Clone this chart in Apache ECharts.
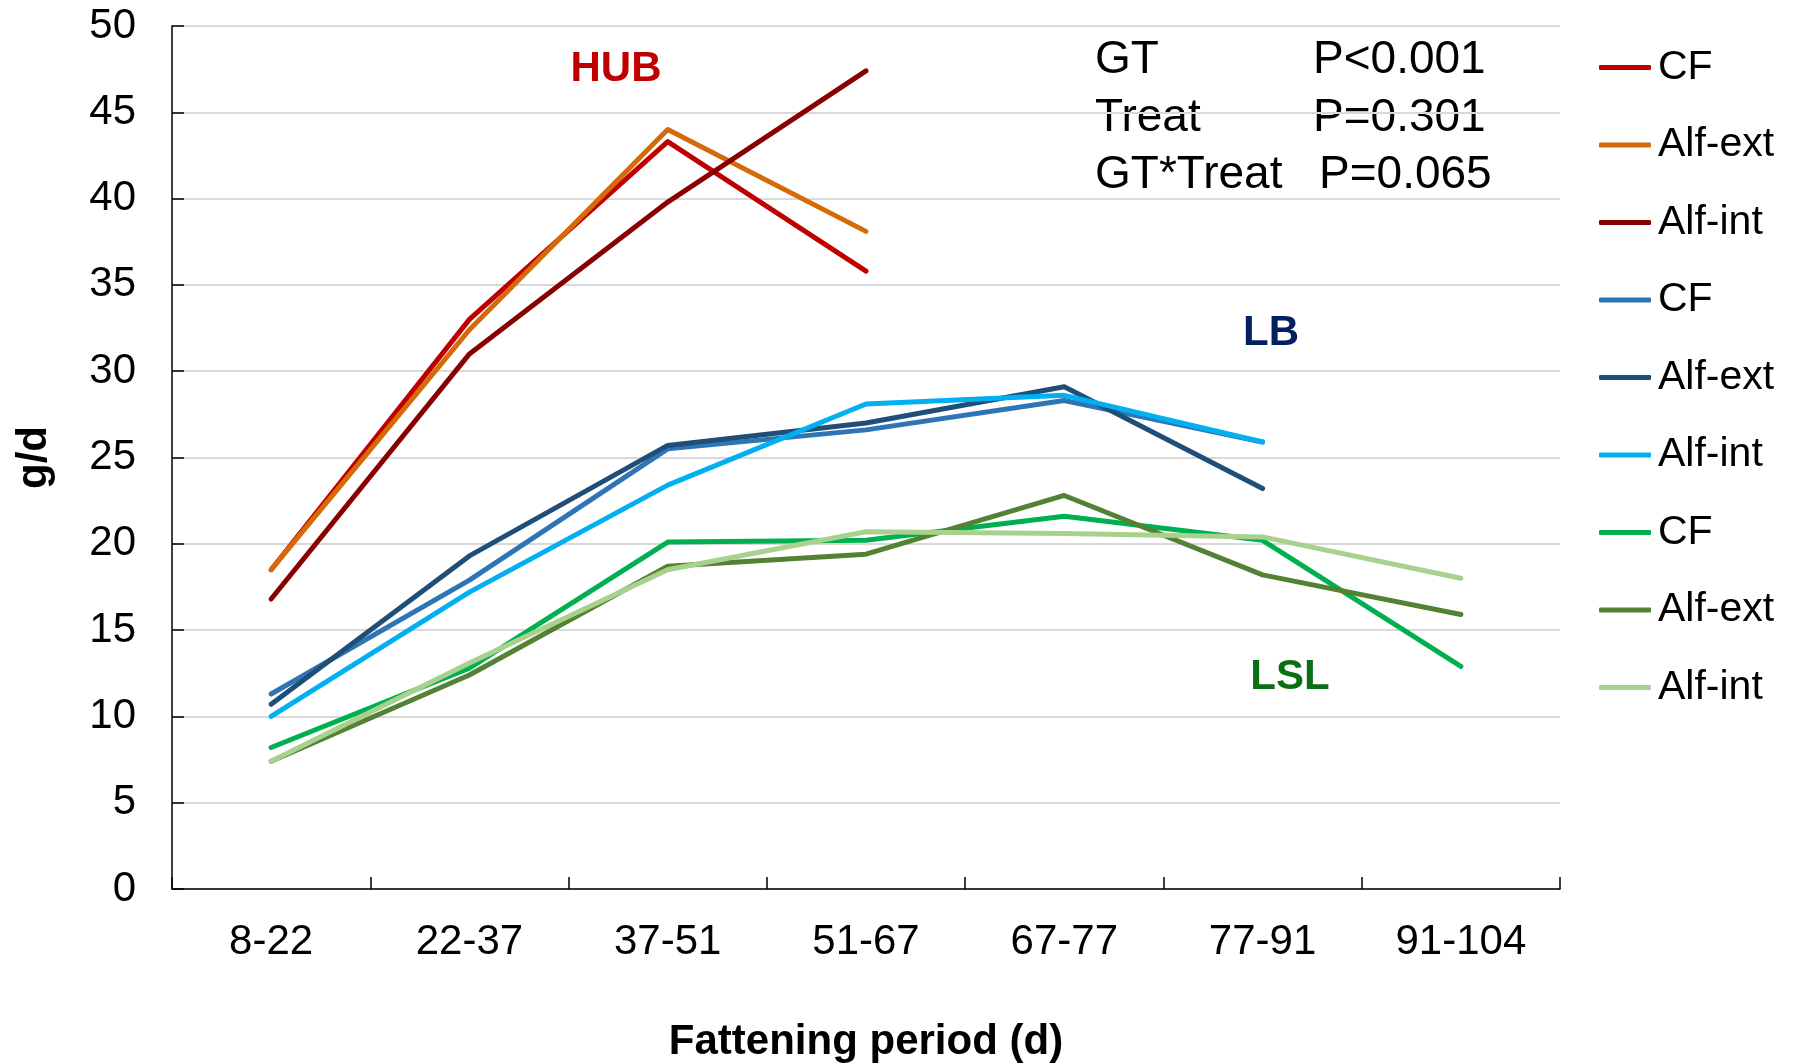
<!DOCTYPE html>
<html>
<head>
<meta charset="utf-8">
<script src="https://cdn.jsdelivr.net/npm/echarts@6/dist/echarts.min.js"></script>
<style>
  html, body { margin: 0; padding: 0; background: #fff; }
  #chart { width: 1798px; height: 1064px; }
</style>
</head>
<body>
<div id="chart"></div>
<script>
// daily gain per fattening period
var periods = ['8-22', '22-37', '37-51', '51-67', '67-77', '77-91', '91-104'];

var hubCF     = [18.5, 33.0, 43.3, 35.8, null, null, null];
var hubAlfExt = [18.5, 32.4, 44.0, 38.1, null, null, null];
var hubAlfInt = [16.8, 31.0, 39.8, 47.4, null, null, null];

var lbCF      = [11.3, 17.9, 25.5, 26.6, 28.3, 25.9, null];
var lbAlfExt  = [10.7, 19.3, 25.7, 27.0, 29.1, 23.2, null];
var lbAlfInt  = [10.0, 17.2, 23.4, 28.1, 28.6, 25.9, null];

var lslCF     = [8.2, 12.8, 20.1, 20.2, 21.6, 20.2, 12.9];
var lslAlfExt = [7.4, 12.4, 18.7, 19.4, 22.8, 18.2, 15.9];
var lslAlfInt = [7.4, 13.1, 18.5, 20.7, 20.6, 20.4, 18.0];

var yTicks = [0, 5, 10, 15, 20, 25, 30, 35, 40, 45, 50];

(function(){

    var chart = echarts.init(document.getElementById('chart'));
    var ff = "'Liberation Sans', Arial, sans-serif";

    function line(name, color, data) {
        return {
            name: name,
            type: 'line',
            data: data,
            symbol: 'none',
            showSymbol: false,
            connectNulls: false,
            itemStyle: { color: color },
            lineStyle: { color: color, width: 5, cap: 'round', join: 'round' },
            emphasis: { disabled: true }
        };
    }

    function txt(text, x, y, size, color, bold, align) {
        return {
            type: 'text',
            x: x, y: y,
            style: {
                text: text,
                fill: color,
                font: (bold ? 'bold ' : '') + size + 'px ' + ff,
                align: align || 'left',
                verticalAlign: 'middle'
            }
        };
    }

    var option = {
        backgroundColor: '#fff',
        animation: false,
        grid: { left: 172, right: 238, top: 26, bottom: 175, outerBoundsMode: 'none', containLabel: false },
        legend: {
            orient: 'vertical',
            left: 1594,
            top: 42,
            icon: 'roundRect',
            itemWidth: 52,
            itemHeight: 5,
            itemGap: 36.5,
            formatter: function (name) { return name.split(' ')[1]; },
            textStyle: { color: '#000', fontSize: 41, fontFamily: ff, lineHeight: 41, padding: [0, 0, 0, 2] }
        },
        xAxis: {
            type: 'category',
            data: periods,
            boundaryGap: true,
            name: 'Fattening period (d)',
            nameLocation: 'middle',
            nameGap: 132,
            nameTextStyle: { color: '#000', fontSize: 42, fontWeight: 'bold', fontFamily: ff },
            axisLine: { lineStyle: { color: '#000', width: 1.5 } },
            axisTick: { show: true, inside: true, length: 12, lineStyle: { color: '#000', width: 1.5 } },
            axisLabel: { color: '#000', fontSize: 42, fontFamily: ff, margin: 32 },
            splitLine: { show: false }
        },
        yAxis: {
            type: 'value',
            min: yTicks[0],
            max: yTicks[yTicks.length - 1],
            interval: 5,
            name: 'g/d',
            nameLocation: 'middle',
            nameGap: 117,
            nameTextStyle: { color: '#000', fontSize: 42, fontWeight: 'bold', fontFamily: ff },
            axisLine: { show: true, lineStyle: { color: '#000', width: 1.5 } },
            axisTick: { show: true, inside: true, length: 12, lineStyle: { color: '#000', width: 1.5 } },
            axisLabel: { color: '#000', fontSize: 42, fontFamily: ff, margin: 36 },
            splitLine: { show: true, lineStyle: { color: '#D9D9D9', width: 2 } }
        },
        graphic: [
            txt('HUB', 616, 69, 42, '#C00000', true, 'center'),
            txt('LB', 1271, 333, 42, '#002060', true, 'center'),
            txt('LSL', 1290, 677, 42, '#0A6E14', true, 'center'),
            txt('GT', 1095, 60, 46, '#000', false),
            txt('P<0.001', 1313, 60, 46, '#000', false),
            txt('Treat', 1095, 118, 46, '#000', false),
            txt('P=0.301', 1313, 118, 46, '#000', false),
            txt('GT*Treat', 1095, 175, 46, '#000', false),
            txt('P=0.065', 1319, 175, 46, '#000', false)
        ],
        series: [
            line('HUB CF', '#C00000', hubCF),
            line('HUB Alf-ext', '#D46B08', hubAlfExt),
            line('HUB Alf-int', '#880000', hubAlfInt),
            line('LB CF', '#2E75B6', lbCF),
            line('LB Alf-ext', '#1F4E79', lbAlfExt),
            line('LB Alf-int', '#00B0F0', lbAlfInt),
            line('LSL CF', '#00B050', lslCF),
            line('LSL Alf-ext', '#548235', lslAlfExt),
            line('LSL Alf-int', '#A9D18E', lslAlfInt)
        ]
    };

    chart.setOption(option);
})();
</script>
</body>
</html>
